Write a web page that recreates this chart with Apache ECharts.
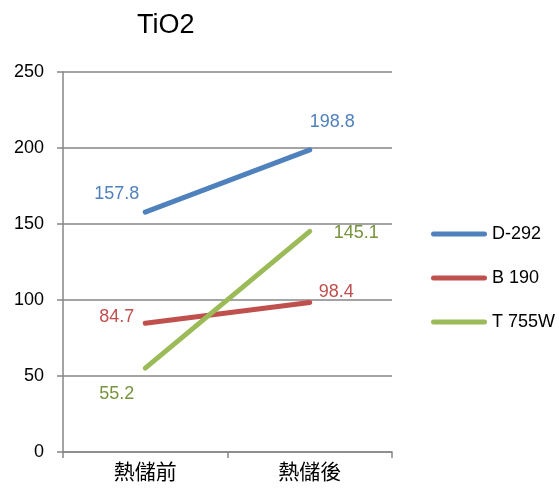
<!DOCTYPE html>
<html><head><meta charset="utf-8">
<script src="https://cdn.jsdelivr.net/npm/echarts@6/dist/echarts.min.js"></script>
<style>html,body{margin:0;padding:0;background:#fff}#c{width:559px;height:490px}</style>
</head><body><div id="c"></div>
<script>
var categories = ['熱儲前', '熱儲後'];
var seriesNames = ['D-292', 'B 190', 'T 755W'];
var d292 = [157.8, 198.8];
var b190 = [84.7, 98.4];
var t755w = [55.2, 145.1];
var yTicks = [0, 50, 100, 150, 200, 250];

var FONT = '"Liberation Sans", "Noto Sans CJK TC", sans-serif';
var colors = ['#4F81BD', '#C0504D', '#9BBB59'];
var labelColors = ['#4F81BD', '#C0504D', '#77933C'];
var capsule = 'path://M2.5,0 L53.5,0 A2.5,2.5 0 0 1 53.5,5 L2.5,5 A2.5,2.5 0 0 1 2.5,0 Z';

function mk(name, vals, color, lcolor, labelCfg) {
  return {
    name: name, type: 'line', data: vals.map(function (v, i) {
      return { value: v, label: labelCfg[i] };
    }),
    symbol: 'circle', symbolSize: 2, showSymbol: true,
    lineStyle: { color: color, width: 5, cap: 'round' },
    itemStyle: { color: color },
    label: { show: true, color: lcolor, fontSize: 18, fontFamily: FONT,
      formatter: function (p) { return p.value.toFixed(1); } },
    z: 3
  };
}

var chart = echarts.init(document.getElementById('c'));
chart.setOption({
  animation: false,
  title: { text: 'TiO2', left: 137, top: 12, padding: 0,
    textStyle: { fontFamily: FONT, fontSize: 27, fontWeight: 'normal', color: '#000' } },
  grid: { left: 63, right: 167, top: 72, bottom: 38 },
  legend: {
    orient: 'vertical', left: 431, top: 225, itemGap: 26, padding: 0,
    itemWidth: 56, itemHeight: 5, icon: capsule,
    data: seriesNames,
    textStyle: { fontFamily: FONT, fontSize: 18, color: '#000' }
  },
  color: colors,
  xAxis: {
    type: 'category', data: categories, boundaryGap: true,
    axisLine: { lineStyle: { color: '#868686', width: 1.5 } },
    axisTick: { show: true, length: 6, lineStyle: { color: '#868686', width: 1.5 } },
    axisLabel: { color: '#000', fontFamily: FONT, fontSize: 21, margin: 11 }
  },
  yAxis: {
    type: 'value', min: yTicks[0], max: yTicks[yTicks.length - 1], interval: 50,
    axisLine: { show: true, lineStyle: { color: '#868686', width: 1.5 } },
    axisTick: { show: true, length: 6, lineStyle: { color: '#868686', width: 1.5 } },
    splitLine: { lineStyle: { color: '#868686', width: 1.5 } },
    axisLabel: { color: '#000', fontFamily: FONT, fontSize: 18, margin: 19 }
  },
  series: [
    mk(seriesNames[0], d292, colors[0], labelColors[0], [
      { position: 'left', distance: 5, offset: [0, -18] },
      { position: 'right', distance: -1, offset: [0, -28] }
    ]),
    mk(seriesNames[1], b190, colors[1], labelColors[1], [
      { position: 'left', distance: 10, offset: [0, -6] },
      { position: 'right', distance: 8, offset: [0, -10] }
    ]),
    mk(seriesNames[2], t755w, colors[2], labelColors[2], [
      { position: 'left', distance: 10, offset: [0, 26] },
      { position: 'right', distance: 23, offset: [0, 2] }
    ])
  ]
});
</script></body></html>
